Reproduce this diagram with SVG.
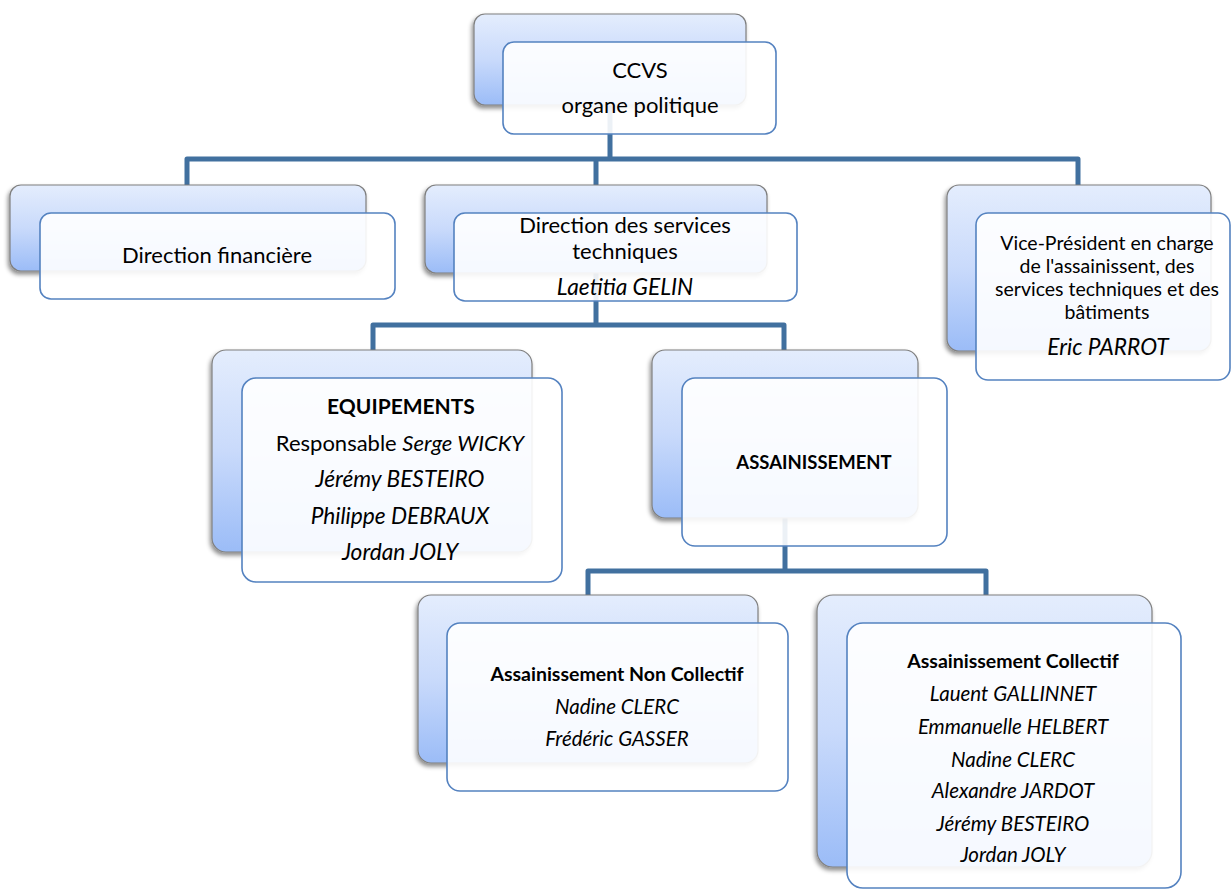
<svg xmlns="http://www.w3.org/2000/svg" width="1231" height="889" viewBox="0 0 1231 889">
<defs>
<linearGradient id="bg" x1="0" y1="0" x2="0" y2="1">
<stop offset="0" stop-color="#e4edfd"/>
<stop offset="0.5" stop-color="#c9dafb"/>
<stop offset="1" stop-color="#9bbcf7"/>
</linearGradient>
<filter id="sh" x="-10%" y="-10%" width="120%" height="130%">
<feDropShadow dx="-1.5" dy="3" stdDeviation="2.2" flood-color="#000" flood-opacity="0.45"/>
</filter>
</defs>
<style>
.back{fill:url(#bg);stroke:#7f7f7f;stroke-width:1.2;filter:url(#sh)}
.front{fill:#ffffff;fill-opacity:0.9;stroke:#5482c0;stroke-width:1.6}
.conn{fill:none;stroke:#41709f;stroke-width:5;stroke-linejoin:round}
text{font-family:Lato,"Liberation Sans",sans-serif;fill:#000;text-anchor:middle}
.m{font-size:22px}
.v{font-size:19.5px}
.b{font-size:19.5px;font-weight:bold}
.i{font-size:20.5px;font-style:italic}
.ii{font-size:22.7px;font-style:italic}
</style>
<rect width="1231" height="889" fill="#ffffff"/>
<g id="connectors">
<path class="conn" d="M610 105 V159 M187 185 V159 H1078 V185 M596 159 V185"/>
<path class="conn" d="M596 273 V325 M373 350 V325 H784 V350"/>
<path class="conn" d="M785 518 V571 M588 595 V571 H986 V595"/>
</g>
<g id="ccvs">
<rect class="back" x="474" y="14" width="272" height="91" rx="11"/>
<rect class="front" x="503" y="42" width="273" height="92" rx="11"/>
<text class="m" x="640" y="78">CCVS</text>
<text class="m" x="640" y="113">organe politique</text>
</g>
<g id="dir-fin">
<rect class="back" x="10" y="185" width="356" height="86" rx="11"/>
<rect class="front" x="40" y="213" width="355" height="86" rx="11"/>
<text class="m" x="217" y="263">Direction financière</text>
</g>
<g id="dir-tech">
<rect class="back" x="425" y="185" width="342" height="88" rx="11"/>
<rect class="front" x="454" y="213" width="343" height="88" rx="11"/>
<text class="m" x="625" y="233">Direction des services</text>
<text class="m" x="625" y="259">techniques</text>
<text class="ii" x="625" y="295">Laetitia GELIN</text>
</g>
<g id="vice-president">
<rect class="back" x="947" y="185" width="264" height="166" rx="12"/>
<rect class="front" x="976" y="213" width="254" height="167" rx="12"/>
<text class="v" x="1107" y="250">Vice-Président en charge</text>
<text class="v" x="1107" y="273">de l'assainissent, des</text>
<text class="v" x="1107" y="296">services techniques et des</text>
<text class="v" x="1107" y="319">bâtiments</text>
<text class="ii" x="1108" y="355">Eric PARROT</text>
</g>
<g id="equipements">
<rect class="back" x="212" y="350" width="320" height="202" rx="14"/>
<rect class="front" x="242" y="378" width="320" height="204" rx="14"/>
<text class="b" x="401" y="414" style="font-size:21px">EQUIPEMENTS</text>
<text class="m" x="400" y="451">Responsable <tspan font-style="italic">Serge WICKY</tspan></text>
<text class="ii" x="400" y="487">Jérémy BESTEIRO</text>
<text class="ii" x="400" y="524">Philippe DEBRAUX</text>
<text class="ii" x="400" y="560">Jordan JOLY</text>
</g>
<g id="assainissement">
<rect class="back" x="652" y="350" width="266" height="168" rx="13"/>
<rect class="front" x="682" y="378" width="265" height="168" rx="13"/>
<text class="b" x="814" y="469" style="font-size:18.5px">ASSAINISSEMENT</text>
</g>
<g id="anc">
<rect class="back" x="418" y="595" width="340" height="168" rx="13"/>
<rect class="front" x="447" y="623" width="341" height="168" rx="13"/>
<text class="b" x="617" y="681">Assainissement Non Collectif</text>
<text class="i" x="617" y="714">Nadine CLERC</text>
<text class="i" x="617" y="746">Frédéric GASSER</text>
</g>
<g id="ac">
<rect class="back" x="817" y="595" width="335" height="272" rx="16"/>
<rect class="front" x="847" y="623" width="334" height="265" rx="16"/>
<text class="b" x="1013" y="668">Assainissement Collectif</text>
<text class="i" x="1013" y="701">Lauent GALLINNET</text>
<text class="i" x="1013" y="734">Emmanuelle HELBERT</text>
<text class="i" x="1013" y="767">Nadine CLERC</text>
<text class="i" x="1013" y="798">Alexandre JARDOT</text>
<text class="i" x="1013" y="831">Jérémy BESTEIRO</text>
<text class="i" x="1013" y="862">Jordan JOLY</text>
</g>
</svg>
